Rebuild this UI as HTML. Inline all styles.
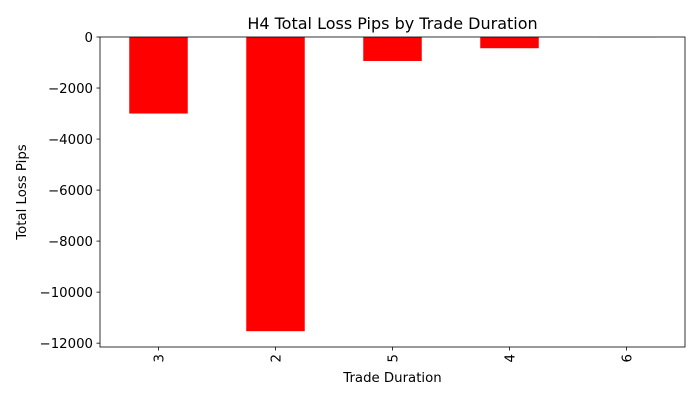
<!DOCTYPE html>
<html><head><meta charset="utf-8"><style>
body{margin:0;background:#fff;}
svg text{font-family:"DejaVu Sans","Liberation Sans",sans-serif;fill:#000;}
</style></head><body>
<svg id="chart" width="700" height="400"></svg>
<script>
const categories = ["3","2","5","4","6"];
const lossValues = [-3000,-11530,-940,-440,-5];
const yTicks = [0,-2000,-4000,-6000,-8000,-10000,-12000];
const yTickLabels = ["0","\u22122000","\u22124000","\u22126000","\u22128000","\u221210000","\u221212000"];

const svg = document.getElementById('chart');
const NS = 'http://www.w3.org/2000/svg';
const L=100,R=685,T=37,B=347;
const yMin=-12150,yMax=0;
const y = v => T + (yMax - v)/(yMax - yMin)*(B-T);
const step=(R-L)/categories.length;
const x = i => L + step*(i+0.5);
function mk(tag, attrs){const e=document.createElementNS(NS,tag);for(const k in attrs)e.setAttribute(k,attrs[k]);svg.appendChild(e);return e;}

categories.forEach((c,i)=>{
  const v=lossValues[i];
  const r=mk('rect',{x:x(i)-step*0.25,y:Math.min(y(0),y(v)),width:step*0.5,height:Math.abs(y(v)-y(0)),fill:'#ff0000'});
  
  
  const t=mk('line',{x1:x(i),x2:x(i),y1:B,y2:B+3.5,stroke:'#000','stroke-width':0.8});
  
  
  const lx=x(i)+5, ly=B+7;
  const lb=mk('text',{x:lx,y:ly,'font-size':13.3,'text-anchor':'end',transform:`rotate(-90 ${lx} ${ly})`});
  lb.textContent=c;
  
  
});
yTicks.forEach((v,i)=>{
  const t=mk('line',{x1:L-3.5,x2:L,y1:y(v),y2:y(v),stroke:'#000','stroke-width':0.8});
  
  
  const lb=mk('text',{x:L-7,y:y(v)+5,'font-size':13.3,'text-anchor':'end'});
  lb.textContent=yTickLabels[i];
  
  
});
const frame=mk('rect',{x:L,y:T,width:R-L,height:B-T,fill:'none',stroke:'#000','stroke-width':0.8});


const title=mk('text',{x:(L+R)/2,y:29,'font-size':16,'text-anchor':'middle'});
title.textContent='H4 Total Loss Pips by Trade Duration';


const xt=mk('text',{x:(L+R)/2,y:382,'font-size':13.3,'text-anchor':'middle'});
xt.textContent='Trade Duration';


const yt=mk('text',{x:26,y:(T+B)/2,'font-size':13.3,'text-anchor':'middle',transform:`rotate(-90 26 ${(T+B)/2})`});
yt.textContent='Total Loss Pips';


</script>
</body></html>
